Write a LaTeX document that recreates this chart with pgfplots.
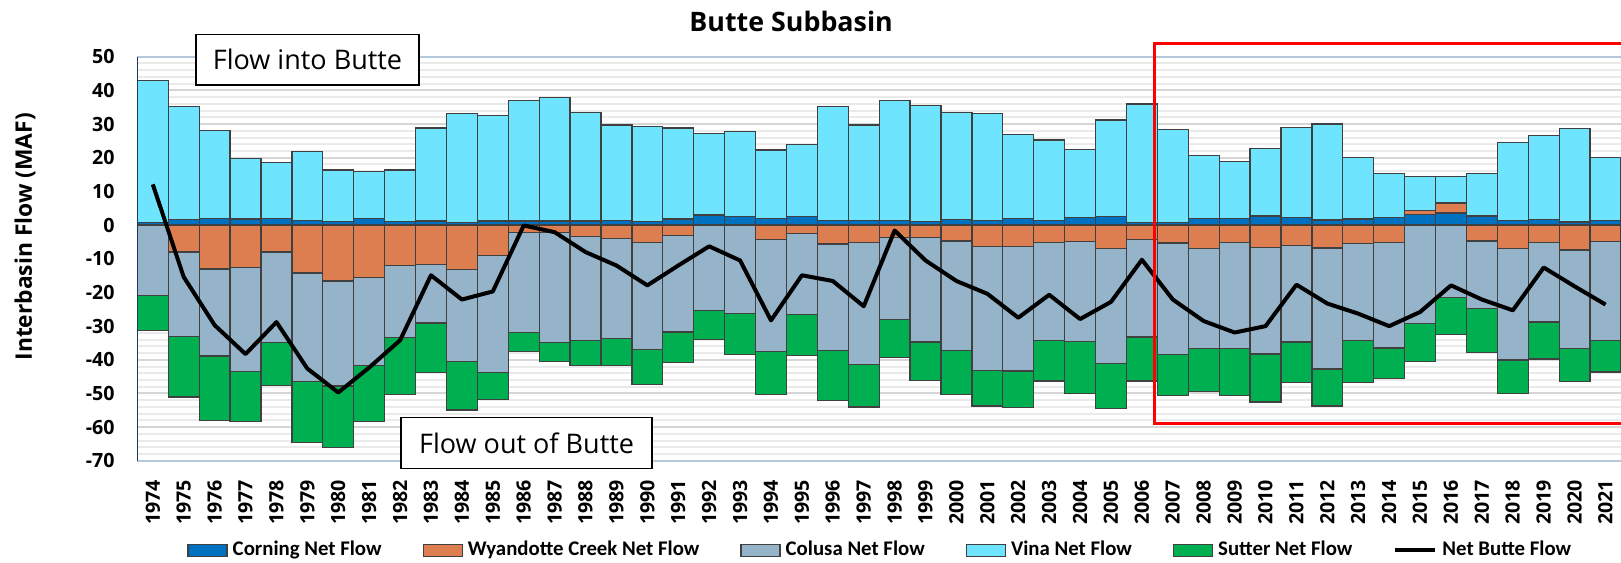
\documentclass[border=0pt]{standalone}
\usepackage{pgfplots}
\pgfplotsset{compat=1.18}
\usepackage{pgfplotstable}
\usepackage{fontspec}
\setmainfont{Open Sans}
\newfontfamily\legfont{Carlito}

\definecolor{corning}{HTML}{0070C0}
\definecolor{wyand}{HTML}{DD7E50}
\definecolor{colusa}{HTML}{95B3C9}
\definecolor{vina}{HTML}{6FE4FF}
\definecolor{sutter}{HTML}{00B050}
\definecolor{outl}{HTML}{404040}
\definecolor{gridmaj}{HTML}{D6D6D6}
\definecolor{gridmin}{HTML}{EAEAEA}
\definecolor{axblue}{HTML}{B4C8DC}
\definecolor{axnavy}{HTML}{1F3A60}

% C = Corning, Wp/Wn = Wyandotte Creek (positive / negative part), V = Vina,
% Co = Colusa, S = Sutter, N = Net Butte Flow (MAF)
\pgfplotstableread{
year C   Wp  V    Wn    Co    S     N
1974 0.8 0   42.1 0     -21.0 -10.2 12.1
1975 1.6 0   33.6 -8.0  -25.0 -18.0 -15.4
1976 2.0 0   26.1 -13.0 -25.9 -19.2 -29.7
1977 1.8 0   18.0 -12.5 -31.0 -14.9 -38.3
1978 2.0 0   16.5 -8.0  -26.8 -12.9 -28.8
1979 1.4 0   20.4 -14.2 -32.3 -18.0 -42.6
1980 1.0 0   15.4 -16.6 -31.2 -18.2 -49.7
1981 2.0 0   14.0 -15.6 -26.0 -16.8 -42.3
1982 1.0 0   15.4 -12.0 -21.4 -16.8 -34.2
1983 1.2 0   27.6 -11.8 -17.3 -14.7 -14.9
1984 0.7 0   32.5 -13.2 -27.4 -14.3 -22.1
1985 1.2 0   31.3 -9.1  -34.7 -7.9  -19.7
1986 1.2 0   35.8 -2.3  -29.5 -5.8  -0.1
1987 1.2 0   36.7 -2.3  -32.6 -5.5  -2.1
1988 1.2 0   32.3 -3.3  -30.9 -7.4  -8.0
1989 1.4 0   28.3 -4.0  -29.7 -7.9  -12.0
1990 1.1 0   28.2 -5.1  -31.8 -10.4 -17.9
1991 1.8 0   27.0 -3.0  -28.7 -9.2  -12.0
1992 3.0 0   24.3 0     -25.3 -8.7  -6.3
1993 2.6 0   25.2 0     -26.3 -12.1 -10.5
1994 1.9 0   20.4 -4.2  -33.3 -12.9 -28.3
1995 2.6 0   21.4 -2.5  -24.0 -12.3 -14.9
1996 1.3 0   33.9 -5.6  -31.6 -14.8 -16.6
1997 1.3 0   28.4 -5.1  -36.3 -12.6 -24.1
1998 1.3 0   35.8 -3.7  -24.4 -11.2 -1.6
1999 1.1 0   34.4 -3.7  -31.0 -11.5 -10.5
2000 1.6 0   31.9 -4.7  -32.5 -13.0 -16.6
2001 1.3 0   31.8 -6.4  -36.7 -10.6 -20.4
2002 1.9 0   25.1 -6.4  -36.9 -10.9 -27.5
2003 1.3 0   24.0 -5.1  -29.1 -12.1 -20.7
2004 2.3 0   20.1 -4.8  -29.7 -15.5 -27.9
2005 2.6 0   28.6 -7.0  -34.1 -13.3 -22.8
2006 0.8 0   35.2 -4.2  -29.0 -13.1 -10.3
2007 0.8 0   27.5 -5.3  -33.1 -12.1 -22.1
2008 2.0 0   18.6 -7.0  -29.7 -12.8 -28.5
2009 2.0 0   16.8 -5.1  -31.6 -13.8 -31.9
2010 2.7 0   20.1 -6.6  -31.7 -14.2 -30.0
2011 2.2 0   26.7 -6.1  -28.6 -12.0 -17.7
2012 1.5 0   28.5 -6.8  -35.9 -11.0 -23.3
2013 1.8 0   18.3 -5.4  -28.8 -12.5 -26.3
2014 2.2 0   13.2 -5.1  -31.4 -9.1  -30.0
2015 3.1 1.2 10.2 0     -29.3 -11.1 -25.8
2016 3.6 3.0 7.9  0     -21.5 -10.9 -17.9
2017 2.7 0   12.7 -4.7  -20.1 -13.1 -22.1
2018 1.3 0   23.2 -7.0  -33.1 -9.9  -25.3
2019 1.6 0   25.0 -5.1  -23.7 -11.0 -12.6
2020 0.9 0   27.7 -7.4  -29.3 -9.8  -18.2
2021 1.3 0   18.8 -4.8  -29.4 -9.4  -23.6
}\flows

\pgfplotsset{
  base/.style={
    width=741.6pt, height=202pt, scale only axis,
    at={(0,0)}, anchor=south west,
    xmin=1973.5, xmax=2021.5, ymin=-70, ymax=50,
    axis line style={draw=none}, major tick length=0pt, minor tick length=0pt,
  },
  seg/.style={draw=outl, line width=0.65pt, fill=#1},
  legbar/.style={legend image code/.code={\draw[##1] (0pt,-3pt) rectangle (19.5pt,3pt);}},
  legline/.style={legend image code/.code={\draw[##1] (0pt,0pt) -- (20pt,0pt);}},
}

\begin{document}
\begin{tikzpicture}
% grid, ticks and the inflows
\begin{axis}[base, ybar stacked, bar width=1,
    ytick={-70,-60,...,50}, minor y tick num=4,
    ymajorgrids, yminorgrids,
    major grid style={gridmaj, line width=1pt},
    minor grid style={gridmin, line width=1pt},
    xtick={1974,...,2021},
    /pgf/number format/assume math mode=true,
    /pgf/number format/1000 sep={},
    yticklabel style={font=\bfseries\fontsize{9.8}{11}\selectfont, inner sep=0pt, anchor=east, xshift=-11.2pt},
    xticklabel style={font=\bfseries\fontsize{9.8}{11}\selectfont, inner sep=0pt, yshift=-9.4pt, rotate=90, anchor=east},
  ]
  \addplot[seg=corning] table[x=year, y=C]{\flows};
  \addplot[seg=wyand] table[x=year, y=Wp]{\flows};
  \addplot[seg=vina] table[x=year, y=V]{\flows};
\end{axis}
% outflows
\begin{axis}[base, ybar stacked, bar width=1, xtick=\empty, ytick=\empty]
  \addplot[seg=wyand] table[x=year, y=Wn]{\flows};
  \addplot[seg=colusa] table[x=year, y=Co]{\flows};
  \addplot[seg=sutter] table[x=year, y=S]{\flows};
  \draw[white!93!black, line width=1.3pt] (axis cs:1973.5,0) -- (axis cs:2021.5,0);
  \draw[white, line width=0.6pt] (axis cs:1973.5,0) -- (axis cs:2021.5,0);
\end{axis}
% net line, legend, notes
\begin{axis}[base, xtick=\empty, ytick=\empty, clip=false,
    legend columns=6,
    legend style={at={(axis description cs:0.0335,-0.221)}, anchor=west,
      draw=none, fill=none, inner sep=0pt,
      font=\legfont\bfseries\fontsize{10.4}{12}\selectfont,
      nodes={inner sep=0pt, anchor=west},
      /tikz/every odd column/.append style={column sep=2.5pt},
      /tikz/every even column/.append style={column sep=20.5pt}},
  ]
  \draw[axblue, line width=1pt] (axis cs:1973.5,50) -- (axis cs:2021.5,50);
  \draw[axblue, line width=1pt] (axis cs:1973.5,-70) -- (axis cs:2021.5,-70);
  \draw[axnavy, line width=0.7pt] (axis cs:1973.5,-70) -- (axis cs:1973.5,50);
  \addlegendimage{legbar, seg=corning}\addlegendentry{Corning Net Flow}
  \addlegendimage{legbar, seg=wyand}\addlegendentry{Wyandotte Creek Net Flow}
  \addlegendimage{legbar, seg=colusa}\addlegendentry{Colusa Net Flow}
  \addlegendimage{legbar, seg=vina}\addlegendentry{Vina Net Flow}
  \addlegendimage{legbar, seg=sutter}\addlegendentry{Sutter Net Flow}
  \addplot[legline, black, line width=2pt, line join=round] table[x=year, y=N]{\flows};
  \addlegendentry{Net Butte Flow}
  \draw[red, line width=1.4pt] (axis cs:2021.7,54) -- (axis cs:2006.41,54)
    -- (axis cs:2006.41,-58.9) -- (axis cs:2021.7,-58.9);
\end{axis}
\node[draw=black, line width=0.9pt, fill=white, minimum width=111.3pt, minimum height=25.3pt,
  font=\fontsize{13.5}{16}\selectfont] at (85.05pt,200.5pt) {Flow into Butte};
\node[draw=black, line width=0.9pt, fill=white, minimum width=125.6pt, minimum height=25.5pt,
  font=\fontsize{13.5}{16}\selectfont] at (194.55pt,8.95pt) {Flow out of Butte};
\node[anchor=base, font=\bfseries\fontsize{13.4}{15}\selectfont] at (326.8pt,214.6pt) {Butte Subbasin};
\node[rotate=90, font=\bfseries\fontsize{11.4}{13}\selectfont] at (-56.15pt,112pt) {Interbasin Flow (MAF)};
\pgfresetboundingbox
\useasboundingbox (-68.65pt,-50.65pt) rectangle (741.6pt,230.35pt);
\end{tikzpicture}
\end{document}
